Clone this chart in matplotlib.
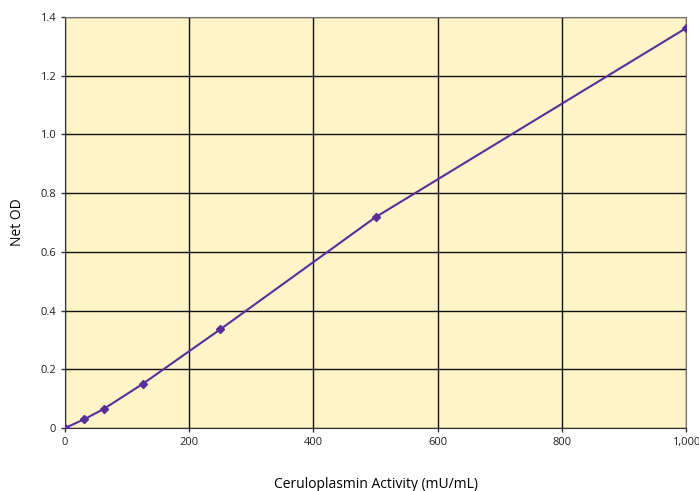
import matplotlib.pyplot as plt

# standard curve data
activity = [0, 31.25, 62.5, 125, 250, 500, 1000]
net_od = [0.0, 0.030, 0.065, 0.150, 0.336, 0.718, 1.362]

x_ticks = [0, 200, 400, 600, 800, 1000]
x_labels = ["0", "200", "400", "600", "800", "1,000"]
y_ticks = [0, 0.2, 0.4, 0.6, 0.8, 1.0, 1.2, 1.4]
y_labels = ["0", "0.2", "0.4", "0.6", "0.8", "1.0", "1.2", "1.4"]

plt.rcParams['font.family'] = ['Open Sans', 'DejaVu Sans']

fig = plt.figure(figsize=(6.99, 4.91), dpi=100)
ax = fig.add_axes([65 / 699, 1 - 428 / 491, 621 / 699, 411 / 491])
ax.set_facecolor('#fff3c8')

ax.plot(activity, net_od, color='#5a2d9c', lw=1.5, marker='D', ms=4.5,
        markerfacecolor='#5a2d9c', markeredgecolor='#5a2d9c', zorder=3)

ax.set_xlim(0, 1000)
ax.set_ylim(0, 1.4)
ax.set_xticks(x_ticks, x_labels)
ax.set_yticks(y_ticks, y_labels)
ax.grid(True, color='#111111', lw=1)
ax.tick_params(labelsize=8, length=3, width=1, colors='#333333', labelcolor='#222222')

for s in ['left', 'bottom']:
    ax.spines[s].set_color('#333333')
for s in ['top', 'right']:
    ax.spines[s].set_color('#777777')

ax.set_xlabel("Ceruloplasmin Activity (mU/mL)", fontsize=10, labelpad=21)
ax.set_ylabel("Net OD", fontsize=10, labelpad=11)

plt.savefig('out.png')
